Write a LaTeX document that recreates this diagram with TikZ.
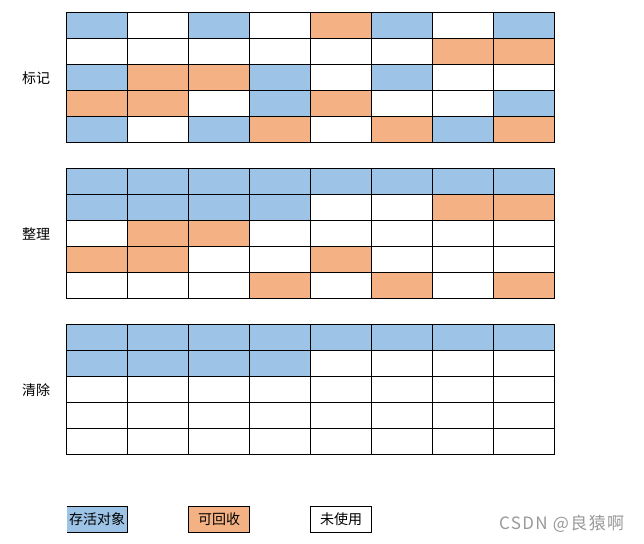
\documentclass[tikz,border=0pt]{standalone}
\usepackage{fontspec}
\setmainfont{Noto Sans CJK SC}
\definecolor{cB}{HTML}{9DC3E6}
\definecolor{cO}{HTML}{F4B183}
\definecolor{cW}{HTML}{FFFFFF}
\tikzset{
  gridline/.style={line width=1pt, black},
  rowlabel/.style={font=\fontsize{14}{16}\selectfont, inner sep=0pt},
  legendtext/.style={font=\fontsize{14}{16}\selectfont, inner sep=0pt},
  legendbox/.style={line width=1pt, draw=black, minimum width=61pt, minimum height=26pt, inner sep=0pt},
}
\newcommand{\mygrid}[2]{%
  \foreach \row [count=\r from 0] in {#2} {
    \foreach \c [count=\k from 0] in \row {
      \fill[c\c] (66.5+61*\k, #1+26*\r) rectangle ++(61,26);
    }
  }
  \foreach \k in {0,...,8} \draw[gridline] (66.5+61*\k, #1) -- (66.5+61*\k, #1+130);
  \foreach \r in {0,...,5} \draw[gridline] (66, #1+26*\r) -- (555, #1+26*\r);
}
\begin{document}
\begin{tikzpicture}[x=1pt,y=-1pt]
\useasboundingbox[fill=white] (0,0) rectangle (644,543);
\mygrid{12.3}{{B,W,B,W,O,B,W,B},{W,W,W,W,W,W,O,O},{B,O,O,B,W,B,W,W},{O,O,W,B,O,W,W,B},{B,W,B,O,W,O,B,O}}
\mygrid{168.3}{{B,B,B,B,B,B,B,B},{B,B,B,B,W,W,O,O},{W,O,O,W,W,W,W,W},{O,O,W,W,O,W,W,W},{W,W,W,O,W,O,W,O}}
\mygrid{324.3}{{B,B,B,B,B,B,B,B},{B,B,B,B,W,W,W,W},{W,W,W,W,W,W,W,W},{W,W,W,W,W,W,W,W},{W,W,W,W,W,W,W,W}}
\node[rowlabel] (l1) at (36,78) {标记};
\node[rowlabel] (l2) at (36,234) {整理};
\node[rowlabel] (l3) at (36,390) {清除};
% legend
\fill[cB] (66.5,506.5) rectangle (127.5,532.5);
\draw[line width=1pt] (66.5,506.5) -- (127.5,506.5) -- (127.5,532.5) -- (66.5,532.5);
\node[legendtext] (g1) at (97,519.5) {存活对象};
\node[legendbox, fill=cO] (g2) at (219,519.5) {};
\node[legendtext] at (g2) {可回收};
\node[legendbox, fill=white] (g3) at (341,519.5) {};
\node[legendtext] at (g3) {未使用};
\node[font=\fontsize{17}{19}\selectfont\addfontfeature{LetterSpace=8}, text=black!40, inner sep=0pt, anchor=west] (wm) at (499,524) {CSDN @良猿啊};
\end{tikzpicture}
\end{document}
